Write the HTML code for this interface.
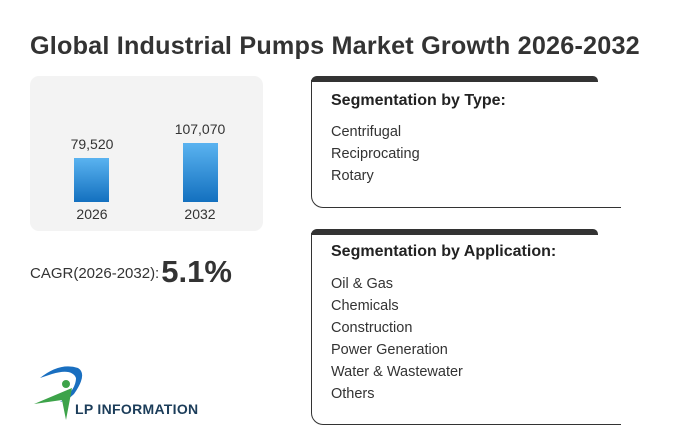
<!DOCTYPE html>
<html><head><meta charset="utf-8"><style>
body{margin:0;width:700px;height:448px;background:#fff;font-family:"Liberation Sans","DejaVu Sans",sans-serif;position:relative;overflow:hidden;color:#333}
.abs{position:absolute}
h1{position:absolute;left:30px;top:32px;margin:0;font-size:25.2px;font-weight:bold;color:#333;white-space:nowrap;letter-spacing:0.2px}
.panel{left:30px;top:76px;width:233px;height:155px;background:#f3f3f3;border-radius:9px}
.bar{background:linear-gradient(#5ab3f0,#1370bf);width:35px}
.lbl{font-size:14px;color:#333;width:80px;text-align:center}
.top{height:6px;background:#333;border-radius:12px 10px 0 0}
.box{border-left:1px solid #333;border-bottom:1px solid #333;border-bottom-left-radius:12px}
.seg h3{margin:0;font-size:16px;font-weight:bold;color:#222}
.seg div{font-size:14.5px;line-height:22px;color:#333}
</style></head><body>
<h1>Global Industrial Pumps Market Growth 2026-2032</h1>
<div class="abs panel"></div>
<div class="abs lbl" style="left:52px;top:136px">79,520</div>
<div class="abs bar" style="left:74px;top:158px;height:44px"></div>
<div class="abs lbl" style="left:52px;top:206px">2026</div>
<div class="abs lbl" style="left:160px;top:121px">107,070</div>
<div class="abs bar" style="left:183px;top:143px;height:59px"></div>
<div class="abs lbl" style="left:160px;top:206px">2032</div>
<div class="abs" style="left:30px;top:254px;font-size:15px;white-space:nowrap">CAGR(2026-2032):<span style="font-size:31px;font-weight:bold;color:#333;vertical-align:-4px;margin-left:2px">5.1%</span></div>

<div class="abs top" style="left:311px;top:76px;width:287px"></div>
<div class="abs box" style="left:311px;top:80px;width:309px;height:127px"></div>
<div class="abs seg" style="left:331px;top:92px"><h3>Segmentation by Type:</h3>
<div style="margin-top:11px">Centrifugal<br>Reciprocating<br>Rotary</div></div>

<div class="abs top" style="left:311px;top:229px;width:287px"></div>
<div class="abs box" style="left:311px;top:233px;width:309px;height:191px"></div>
<div class="abs seg" style="left:331px;top:243px"><h3>Segmentation by Application:</h3>
<div style="margin-top:12px">Oil &amp; Gas<br>Chemicals<br>Construction<br>Power Generation<br>Water &amp; Wastewater<br>Others</div></div>

<svg class="abs" style="left:30px;top:360px" width="60" height="60" viewBox="0 0 60 60">
<path d="M10 18 Q30 2 48 8 Q58 14 44 34 Q38 40 30 42 Q46 30 46 18 Q42 8 22 14 Z" fill="#1a6fc0"/>
<circle cx="36" cy="24" r="4" fill="#3da34a"/>
<path d="M4 44 L42 28 L36 60 L32 40 Z" fill="#3da34a"/>
</svg>
<div class="abs" style="left:75px;top:401px;font-size:14px;font-weight:bold;color:#1c3d5a;letter-spacing:0.3px">LP INFORMATION</div>
</body></html>
